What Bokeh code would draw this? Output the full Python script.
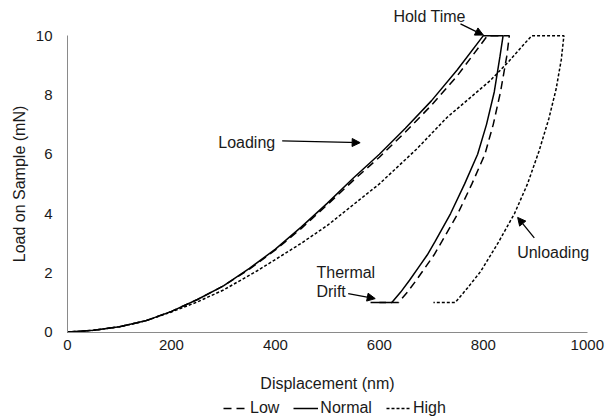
from bokeh.plotting import figure
from bokeh.models import (Range1d, FixedTicker, Legend, LegendItem, Arrow, NormalHead,
                          ColumnDataSource)
from bokeh.core.properties import value
from bokeh.embed import file_html
from bokeh.resources import INLINE

# ---- data (displacement nm, load mN) ----
normal_x = [0, 50, 100, 150, 200, 250, 300, 350, 400, 450, 500, 550, 600, 650, 700, 750, 800,
            838, 832, 821, 806, 789, 764, 737, 707, 692, 676, 658, 641, 624, 583]
normal_y = [0, 0.06, 0.18, 0.38, 0.7, 1.1, 1.56, 2.15, 2.8, 3.55, 4.35, 5.2, 6.0, 6.88, 7.8, 8.85, 10,
            10, 9.3, 8.1, 7.0, 6.0, 5.0, 4.0, 3.05, 2.6, 2.2, 1.75, 1.35, 1.0, 1.0]

low_x = [0, 50, 100, 150, 200, 250, 300, 350, 400, 450, 500, 550, 600, 650, 700, 750, 808,
         850, 845, 833, 819, 803, 778, 751, 720, 705, 689, 671, 654, 637, 600]
low_y = [0, 0.06, 0.18, 0.38, 0.7, 1.1, 1.56, 2.12, 2.77, 3.5, 4.3, 5.12, 5.9, 6.75, 7.65, 8.65, 10,
         10, 9.3, 8.1, 7.0, 6.0, 5.0, 4.0, 3.05, 2.6, 2.2, 1.75, 1.35, 1.0, 1.0]

high_x = [0, 50, 100, 150, 200, 250, 300, 365, 400, 450, 500, 550, 600, 672, 730, 813, 850, 893,
          955, 950, 940, 926, 907, 885, 860, 828, 795, 770, 746, 704]
high_y = [0, 0.06, 0.18, 0.38, 0.68, 1.02, 1.42, 2.07, 2.45, 3.0, 3.6, 4.3, 5.0, 6.18, 7.24, 8.48, 9.15, 10,
          10, 9.2, 8.2, 7.2, 6.1, 5.0, 4.0, 3.0, 2.05, 1.5, 1.0, 1.0]

x_ticks = [0, 200, 400, 600, 800, 1000]
y_ticks = [0, 2, 4, 6, 8, 10]

# annotations
ann_text = ["Hold Time", "Loading", "Thermal", "Drift", "Unloading"]
ann_x = [627, 290, 479, 479, 865]
ann_y = [10.64, 6.39, 2.0, 1.36, 2.7]

arrow_x0 = [756, 413, 540, 898]
arrow_y0 = [10.4, 6.45, 1.3, 3.18]
arrow_x1 = [800, 563, 592, 866]
arrow_y1 = [10.02, 6.39, 1.13, 3.87]

FONT = "Liberation Sans"
TXT = "#1a1a1a"
AX = "#8a8a8a"

p = figure(frame_width=605, frame_height=410, output_backend="svg", toolbar_location=None,
           x_range=Range1d(-128.9, 1035), y_range=Range1d(-2.88, 10.95),
           min_border_left=0, min_border_right=3, min_border_top=7, min_border_bottom=0)
p.outline_line_color = None
p.xgrid.visible = False
p.ygrid.visible = False

for ax in (p.xaxis[0], p.yaxis[0]):
    ax.major_tick_line_color = None
    ax.minor_tick_line_color = None
    ax.major_tick_out = 0
    ax.major_tick_in = 0
    ax.minor_tick_out = 0
    ax.minor_tick_in = 0
    ax.axis_line_color = AX
    ax.axis_line_width = 1
    ax.major_label_text_font = FONT
    ax.major_label_text_font_size = "15px"
    ax.major_label_text_color = TXT
    ax.axis_label_text_font = FONT
    ax.axis_label_text_font_size = "16px"
    ax.axis_label_text_font_style = "normal"
    ax.axis_label_text_color = TXT

p.xaxis.fixed_location = 0
p.yaxis.fixed_location = 0
p.xaxis.bounds = (0, 1000)
p.yaxis.bounds = (0, 10)
p.xaxis.ticker = FixedTicker(ticks=x_ticks)
p.yaxis.ticker = FixedTicker(ticks=y_ticks)
p.xaxis.axis_label = "Displacement (nm)"
p.yaxis.axis_label = "Load on Sample (mN)"
p.xaxis.major_label_standoff = 8
p.yaxis.major_label_standoff = 15
p.xaxis.axis_label_standoff = 21
p.yaxis.axis_label_standoff = 5

r_low = p.line(low_x, low_y, line_color="black", line_width=1.5, line_dash="8 5")
r_norm = p.line(normal_x, normal_y, line_color="black", line_width=1.5)
r_high = p.line(high_x, high_y, line_color="black", line_width=1.5, line_dash="3 2")

p.text(x=ann_x, y=ann_y, text=ann_text, text_font=value(FONT), text_font_size="16px",
       text_color=TXT, text_align="left", text_baseline="middle")

arrow_src = ColumnDataSource(dict(x0=arrow_x0, y0=arrow_y0, x1=arrow_x1, y1=arrow_y1))
p.add_layout(Arrow(end=NormalHead(size=8, fill_color="black", line_color="black", line_width=1),
                   x_start="x0", y_start="y0", x_end="x1", y_end="y1", source=arrow_src,
                   line_color="black", line_width=1.3))

legend = Legend(items=[LegendItem(label="Low", renderers=[r_low]),
                       LegendItem(label="Normal", renderers=[r_norm]),
                       LegendItem(label="High", renderers=[r_high])],
                location=(223, 0), orientation="horizontal",
                border_line_color=None, background_fill_alpha=0,
                padding=0, margin=0, spacing=14, glyph_width=25, glyph_height=18,
                label_height=18, label_standoff=2, label_text_font=FONT,
                label_text_font_size="16px", label_text_color=TXT)
p.add_layout(legend)

open("out.html", "w").write(file_html(p, INLINE))
